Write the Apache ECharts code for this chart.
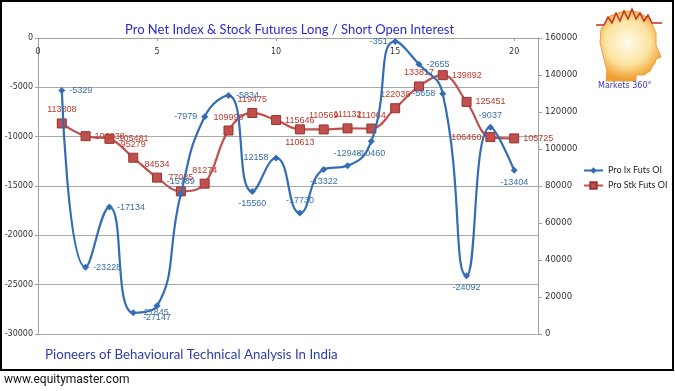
<!DOCTYPE html>
<html><head><meta charset="utf-8">
<script src="https://cdn.jsdelivr.net/npm/echarts@6/dist/echarts.min.js"></script>
<style>html,body{margin:0;padding:0;background:#fff}#c{width:675px;height:391px}</style>
</head><body><div id="c"></div>
<script>
const xValues = [1, 2, 3, 4, 5, 6, 7, 8, 9, 10, 11, 12, 13, 14, 15, 16, 17, 18, 19, 20];
const proIxFutsOI = [-5329, -23228, -17134, -27845, -27147, -15789, -7979, -5834, -15560, -12158,
  -17730, -13322, -12948, -10460, -351, -2655, -5658, -24092, -9037, -13404];
const proStkFutsOI = [113808, 106938, 105481, 95279, 84534, 77085, 81274, 109990, 119475, 115646,
  110613, 110569, 111132, 111064, 122036, 133817, 139892, 125451, 106460, 105725];
const xTicks = [0, 5, 10, 15, 20];
const seriesNames = ['Pro Ix Futs OI', 'Pro Stk Futs OI'];
const titleText = 'Pro Net Index & Stock Futures Long / Short Open Interest';
const footerText = 'Pioneers of Behavioural Technical Analysis In India';
const siteText = 'www.equitymaster.com';
const logoText = 'Markets 360°';

// label placement per point (style only)
const bluePos = ['right','right','right','right','bottom','top','left','right','bottom','left',
  'top','bottom','top','bottom','left','right','left','bottom','top','bottom'];
const redPos = ['top','right','right','top','top','top','top','top','top','right',
  'bottom','top','top','top','top','top','right','right','left','right'];

const chart = echarts.init(document.getElementById('c'), null, {renderer: 'canvas'});
const blueColor = '#336DB3';
const redColor = '#C0504D';

function build(vals, pos) {
  return vals.map((v, i) => ({
    value: [xValues[i], v],
    label: {position: pos[i], distance: 4}
  }));
}

chart.setOption({
  animation: false,
  backgroundColor: '#fff',
  grid: {left: 38, right: 137, top: 38, bottom: 57, containLabel: false},
  legend: {
    orient: 'vertical', left: 583, top: 166, itemGap: 6, itemWidth: 19, itemHeight: 8,
    padding: 0,
    textStyle: {fontFamily: 'Lato', fontSize: 9, color: '#222'},
    data: seriesNames
  },
  xAxis: {
    type: 'value', position: 'top', min: 0, max: 21, interval: 5,
    axisLine: {show: true, onZero: false, lineStyle: {color: '#A0A0A0', width: 1}},
    axisTick: {show: true, inside: true, length: 3, lineStyle: {color: '#A0A0A0'}},
    axisLabel: {inside: true, margin: 10, showMaxLabel: false, fontFamily: 'DejaVu Sans', fontSize: 8, color: '#333',
      formatter: v => xTicks.includes(v) ? String(v) : ''},
    splitLine: {show: false}
  },
  yAxis: [{
    type: 'value', min: -30000, max: 0, interval: 5000,
    axisLine: {show: true, lineStyle: {color: '#A0A0A0'}},
    axisTick: {show: true, length: 3, lineStyle: {color: '#A0A0A0'}},
    axisLabel: {fontFamily: 'DejaVu Sans', fontSize: 8, color: '#333', margin: 5, formatter: v => String(v)},
    splitLine: {show: true, lineStyle: {color: '#A8A8A8', width: 1}}
  }, {
    type: 'value', min: 0, max: 160000, interval: 20000, position: 'right',
    axisLine: {show: true, lineStyle: {color: '#A0A0A0'}},
    axisTick: {show: true, length: 4, lineStyle: {color: '#A0A0A0'}},
    axisLabel: {fontFamily: 'DejaVu Sans', fontSize: 8.5, color: '#333', margin: 7, formatter: v => String(v)},
    splitLine: {show: false}
  }],
  series: [{
    name: seriesNames[0], type: 'line', yAxisIndex: 0, smooth: 0.5,
    data: build(proIxFutsOI, bluePos),
    symbol: 'diamond', symbolSize: 7,
    itemStyle: {color: blueColor},
    lineStyle: {color: blueColor, width: 2.2},
    label: {show: true, color: '#3A6FA8', fontFamily: 'Liberation Sans', fontSize: 9,
      formatter: p => String(p.value[1])},
    z: 3
  }, {
    name: seriesNames[1], type: 'line', yAxisIndex: 1, smooth: 0.4,
    data: build(proStkFutsOI, redPos),
    symbol: 'rect', symbolSize: 9,
    itemStyle: {color: redColor, borderColor: '#9B3330', borderWidth: 1},
    lineStyle: {color: redColor, width: 2.2},
    label: {show: true, color: '#C0392B', fontFamily: 'Liberation Sans', fontSize: 9,
      formatter: p => String(p.value[1])},
    z: 2
  }],
  graphic: [
    {type: 'rect', shape: {x: 1, y: 1, width: 672, height: 369}, style: {fill: 'none', stroke: '#000', lineWidth: 2}, z: 10},
    {type: 'text', x: 125, y: 23, style: {text: titleText, font: '13px Lato', fill: '#2B2BCC'}, z: 10},
    {type: 'text', x: 45, y: 348, style: {text: footerText, font: '13.3px Lato', fill: '#2E3DAA'}, z: 10},
    {type: 'text', x: 4, y: 374, style: {text: siteText, font: '12px Roboto', fill: '#111'}, z: 10},
    {type: 'group', x: 592, y: 7, z: 5, children: [
      {type: 'polygon', shape: {points: [[14,74],[44,74],[44,68],[52,68],[58,64],[60,60],[63,56],[64,52],[69,50],[64,38],[64,26],[58,12],[46,5],[32,4],[18,9],[9,22],[8,36],[12,52],[15,64]]},
        style: {fill: {type: 'radial', x: 0.45, y: 0.45, r: 0.6, colorStops: [{offset: 0, color: '#FFFBEA'}, {offset: 0.6, color: '#FCE3A0'}, {offset: 1, color: '#F0A030'}]}, stroke: '#E8A040', lineWidth: 1}},
      {type: 'polyline', shape: {points: [[4,18],[12,18],[16,10],[20,16],[24,6],[28,14],[32,4],[36,12],[40,2],[44,12],[48,6],[52,14],[56,8],[60,16],[70,16]]},
        style: {stroke: '#C03020', lineWidth: 1.5, fill: 'none'}}
    ]},
    {type: 'text', x: 598, y: 82, style: {text: logoText, font: '8px "DejaVu Sans"', fill: '#3A3AC0'}, z: 10}
  ]
});
</script></body></html>
